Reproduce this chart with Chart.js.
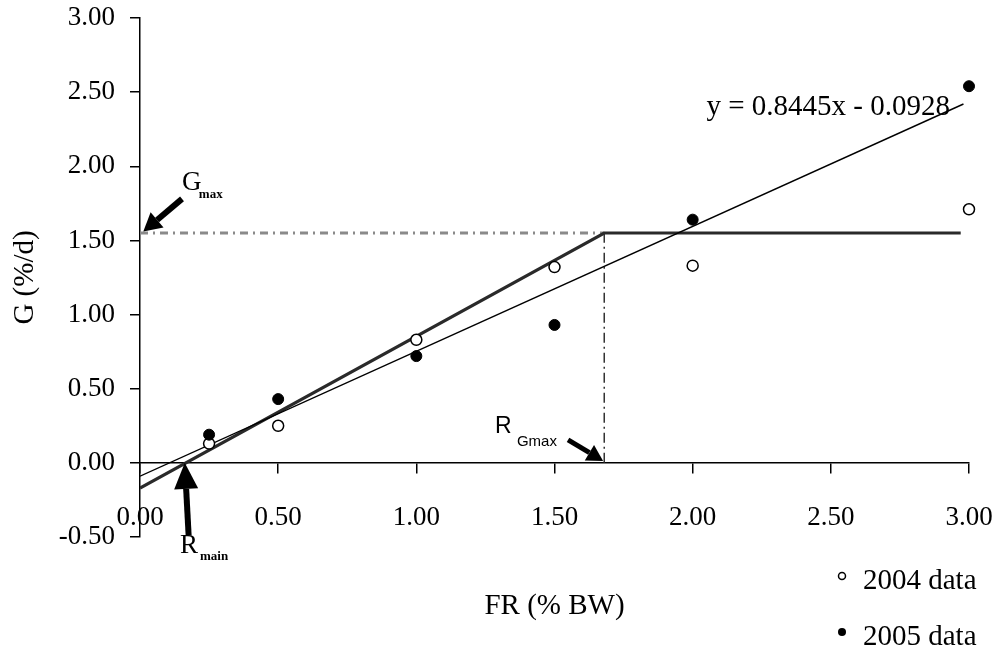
<!DOCTYPE html>
<html><head><meta charset="utf-8">
<script src="https://cdn.jsdelivr.net/npm/chart.js@4/dist/chart.umd.min.js"></script>
<style>html,body{margin:0;padding:0;background:#fff;} #wrap{width:998px;height:649px;position:relative;}</style>
</head><body><div id="wrap"><canvas id="c" width="998" height="649"></canvas></div>
<script>
// ---- data ----
const feedRate = [0.25, 0.5, 1.0, 1.5, 2.0, 3.0];
const growth2004 = [0.13, 0.25, 0.83, 1.32, 1.33, 1.71];
const growth2005 = [0.19, 0.43, 0.72, 0.93, 1.64, 2.54];
const modelX = [0, 1.68, 2.97];
const modelY = [-0.17, 1.55, 1.55];
const trendX = [0, 2.98];
const trendY = [-0.09, 2.42];
const gmaxGuideX = [0, 1.68];
const gmaxGuideY = [1.55, 1.55];
const rgmaxGuideX = [1.68, 1.68];
const rgmaxGuideY = [0, 1.55];
const xTicks = [0, 0.5, 1.0, 1.5, 2.0, 2.5, 3.0];
const yTicks = [-0.5, 0, 0.5, 1.0, 1.5, 2.0, 2.5, 3.0];
const seriesNames = ['2004 data', '2005 data'];
const xTitle = 'FR (% BW)';
const yTitle = 'G (%/d)';
const equationText = 'y = 0.8445x - 0.0928';

const pts = (xs, ys) => xs.map((x, i) => ({x: x, y: ys[i]}));
const SERIF = '"Liberation Serif", "Times New Roman", serif';
const SANS = '"Liberation Sans", Arial, sans-serif';

function arrow(ctx, x1, y1, x2, y2, w, headLen, headW) {
  const ang = Math.atan2(y2 - y1, x2 - x1);
  const bx = x2 - headLen * Math.cos(ang), by = y2 - headLen * Math.sin(ang);
  ctx.lineWidth = w; ctx.strokeStyle = '#000'; ctx.fillStyle = '#000'; ctx.lineCap = 'butt';
  ctx.beginPath(); ctx.moveTo(x1, y1); ctx.lineTo(bx, by); ctx.stroke();
  ctx.beginPath(); ctx.moveTo(x2, y2);
  ctx.lineTo(bx + headW / 2 * Math.sin(ang), by - headW / 2 * Math.cos(ang));
  ctx.lineTo(bx - headW / 2 * Math.sin(ang), by + headW / 2 * Math.cos(ang));
  ctx.closePath(); ctx.fill();
}

const annotations = {
  id: 'annotations',
  afterDraw(chart) {
    const {ctx, chartArea} = chart;
    const xs = chart.scales.x, ys = chart.scales.y;
    const X = v => xs.getPixelForValue(v), Y = v => ys.getPixelForValue(v);
    ctx.save();
    ctx.fillStyle = '#000';
    ctx.textBaseline = 'alphabetic';

    // x axis title
    ctx.font = '29px ' + SERIF;
    ctx.textAlign = 'center';
    ctx.fillText(xTitle, (chartArea.left + chartArea.right) / 2, chartArea.bottom + 77);

    // regression equation
    ctx.textAlign = 'left';
    ctx.fillText(equationText, X(2.05), Y(2.347));

    // G max label + arrow
    ctx.font = '27px ' + SERIF;
    ctx.fillText('G', X(0.152), Y(1.84));
    ctx.font = 'bold 13px ' + SERIF;
    ctx.fillText('max', X(0.213), Y(1.787));
    arrow(ctx, X(0.152), Y(1.78), X(0.012), Y(1.56), 6, 18, 20);

    // R Gmax label + arrow
    ctx.font = '23px ' + SANS;
    ctx.fillText('R', X(1.285), Y(0.202));
    ctx.font = '15px ' + SANS;
    ctx.fillText('Gmax', X(1.364), Y(0.115));
    arrow(ctx, X(1.549), Y(0.155), X(1.676), Y(0.013), 5, 16, 18);

    // R main label + arrow
    ctx.font = '27px ' + SERIF;
    ctx.fillText('R', X(0.145), Y(-0.607));
    ctx.font = 'bold 13px ' + SERIF;
    ctx.fillText('main', X(0.217), Y(-0.655));
    arrow(ctx, X(0.176), Y(-0.49), X(0.162), Y(0.0), 6, 26, 24);

    // legend
    const lx = chartArea.right - 127;
    ctx.font = '29px ' + SERIF;
    ctx.lineWidth = 1.5; ctx.strokeStyle = '#000';
    ctx.beginPath(); ctx.arc(lx, chartArea.bottom + 39, 3.5, 0, Math.PI * 2);
    ctx.fillStyle = '#fff'; ctx.fill(); ctx.stroke();
    ctx.fillStyle = '#000';
    ctx.fillText(seriesNames[0], lx + 21, chartArea.bottom + 52);
    ctx.beginPath(); ctx.arc(lx, chartArea.bottom + 95, 4, 0, Math.PI * 2); ctx.fill();
    ctx.fillText(seriesNames[1], lx + 21, chartArea.bottom + 108);
    ctx.restore();
  }
};

const axisFont = {family: SERIF, size: 27};

new Chart(document.getElementById('c'), {
  type: 'scatter',
  data: {
    datasets: [
      {label: seriesNames[0], data: pts(feedRate, growth2004), order: 1, clip: false,
       pointRadius: 5.5, pointBackgroundColor: '#fff', pointBorderColor: '#000', pointBorderWidth: 1.5, showLine: false},
      {label: seriesNames[1], data: pts(feedRate, growth2005), order: 0, clip: false,
       pointRadius: 5.5, pointBackgroundColor: '#000', pointBorderColor: '#000', pointBorderWidth: 1, showLine: false},
      {label: 'model', data: pts(modelX, modelY), order: 3, showLine: true, pointRadius: 0,
       borderColor: '#2a2a2a', borderWidth: 3.2, fill: false, tension: 0},
      {label: 'trend', data: pts(trendX, trendY), order: 2, showLine: true, pointRadius: 0,
       borderColor: '#000', borderWidth: 1.4, fill: false, tension: 0},
      {label: 'Gmax', data: pts(gmaxGuideX, gmaxGuideY), order: 5, showLine: true, pointRadius: 0,
       borderColor: '#8a8a8a', borderWidth: 3, borderDash: [8, 5, 2, 5], fill: false},
      {label: 'RGmax', data: pts(rgmaxGuideX, rgmaxGuideY), order: 4, showLine: true, pointRadius: 0,
       borderColor: '#333', borderWidth: 1.5, borderDash: [10, 4, 2, 4], fill: false}
    ]
  },
  options: {
    responsive: false,
    animation: false,
    events: [],
    layout: {padding: {left: 0, top: 18, right: 29, bottom: 112}},
    plugins: {legend: {display: false}, tooltip: {enabled: false}},
    scales: {
      x: {
        type: 'linear', position: {y: 0}, min: 0, max: 3,
        afterBuildTicks: s => { s.ticks = xTicks.map(v => ({value: v})); },
        afterFit: s => { s.paddingLeft = 24; s.paddingRight = 24; },
        ticks: {color: '#000', font: axisFont, padding: 29, maxRotation: 0, autoSkip: false,
                callback: v => Number(v).toFixed(2)},
        grid: {display: true, drawOnChartArea: false, drawTicks: true, tickLength: 10, color: '#000', lineWidth: 1.5},
        border: {display: true, color: '#000', width: 1.5}
      },
      y: {
        type: 'linear', position: 'left', min: -0.5, max: 3,
        afterBuildTicks: s => { s.ticks = yTicks.map(v => ({value: v})); },
        afterFit: s => { s.width = 140; s.paddingTop = 16; s.paddingBottom = 16; },
        ticks: {color: '#000', font: axisFont, padding: 15, autoSkip: false,
                callback: v => Number(v).toFixed(2)},
        grid: {display: true, drawOnChartArea: false, drawTicks: true, tickLength: 10, color: '#000', lineWidth: 1.5},
        border: {display: true, color: '#000', width: 1.5},
        title: {display: true, text: yTitle, color: '#000', font: {family: SERIF, size: 29}, padding: {top: 8, bottom: 0}}
      }
    }
  },
  plugins: [annotations]
});
</script>
</body></html>
